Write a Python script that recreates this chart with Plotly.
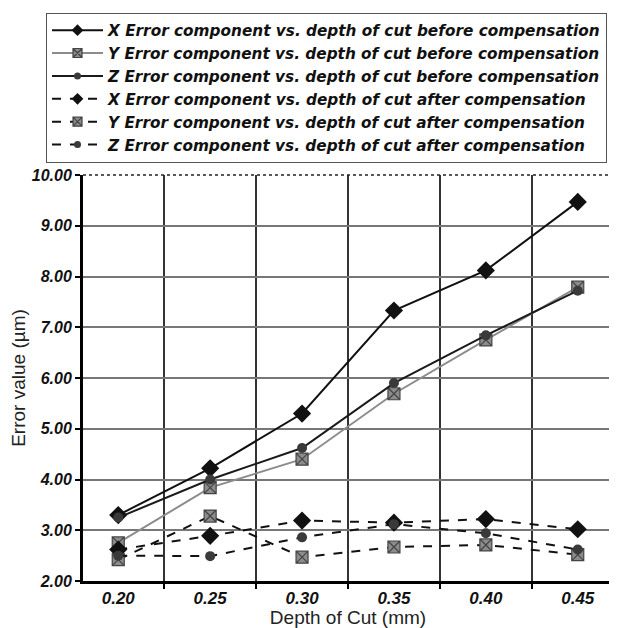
import plotly.graph_objects as go

depth = ["0.20", "0.25", "0.30", "0.35", "0.40", "0.45"]
x_before = [3.30, 4.22, 5.30, 7.33, 8.12, 9.47]
y_before = [2.75, 3.84, 4.40, 5.69, 6.75, 7.79]
z_before = [3.25, 4.00, 4.62, 5.90, 6.84, 7.72]
x_after = [2.62, 2.89, 3.19, 3.15, 3.22, 3.02]
y_after = [2.42, 3.28, 2.47, 2.67, 2.71, 2.52]
z_after = [2.50, 2.49, 2.86, 3.12, 2.94, 2.62]

names = [
    "X Error component vs. depth of cut before compensation",
    "Y Error component vs. depth of cut before compensation",
    "Z Error component vs. depth of cut before compensation",
    "X Error component vs. depth of cut after compensation",
    "Y Error component vs. depth of cut after compensation",
    "Z Error component vs. depth of cut after compensation",
]

FONT = "Liberation Sans, Arial, sans-serif"
LEGFONT = "DejaVu Sans, sans-serif"

lines = [
    dict(color="#111111", width=2),
    dict(color="#8c8c8c", width=2),
    dict(color="#1a1a1a", width=2),
    dict(color="#111111", width=2, dash="dash"),
    dict(color="#111111", width=2, dash="dash"),
    dict(color="#111111", width=2, dash="dash"),
]
marks = [
    dict(symbol="diamond", size=14, color="#111111"),
    dict(symbol="square-x", size=12, color="#8c8c8c", line=dict(color="#444444", width=1.2)),
    dict(symbol="circle", size=10, color="#3a3a3a"),
    dict(symbol="diamond", size=14, color="#111111"),
    dict(symbol="square-x", size=12, color="#8c8c8c", line=dict(color="#444444", width=1.2)),
    dict(symbol="circle", size=10, color="#3a3a3a"),
]
leg_sizes = [9, 9, 7, 9, 9, 7]

series = [x_before, y_before, z_before, x_after, y_after, z_after]

fig = go.Figure()
for i, (name, vals) in enumerate(zip(names, series)):
    fig.add_trace(go.Scatter(x=depth, y=vals, mode="lines+markers", name=name,
                             line=lines[i], marker=marks[i], showlegend=False,
                             legendgroup=f"g{i}"))
# legend entries with smaller symbols (as in the reference legend)
for i, name in enumerate(names):
    m = dict(marks[i])
    m["size"] = leg_sizes[i]
    fig.add_trace(go.Scatter(x=[None], y=[None], mode="lines+markers", name=name,
                             line=lines[i], marker=m, showlegend=True,
                             legendgroup=f"g{i}", hoverinfo="skip"))

fig.update_layout(
    width=609, height=620,
    paper_bgcolor="white", plot_bgcolor="white",
    margin=dict(l=75, r=4, t=167, b=47),
    font=dict(family=FONT, color="#111111"),
    showlegend=True,
    legend=dict(
        x=-0.0698, y=1.3998, xanchor="left", yanchor="top",
        bordercolor="#555555", borderwidth=1, bgcolor="white",
        itemwidth=51,
        font=dict(family=LEGFONT, size=15.3, style="italic", weight="bold", color="#111111"),
        tracegroupgap=0,
    ),
    xaxis=dict(
        type="category", tickson="boundaries",
        categoryorder="array", categoryarray=depth,
        showgrid=True, gridcolor="#333333", gridwidth=1.5,
        showline=True, linecolor="#000000", linewidth=3,
        ticks="outside", ticklen=5, tickwidth=2, tickcolor="#000000",
        tickfont=dict(family=FONT, size=17, weight="bold", style="italic", color="#111111"),
        title=dict(text="Depth of Cut (mm)", font=dict(family=FONT, size=19, color="#222222"), standoff=2),
        zeroline=False,
    ),
    yaxis=dict(
        range=[2, 10], dtick=1, tickformat=".2f",
        showgrid=True, gridcolor="#777777", gridwidth=1.5,
        showline=True, linecolor="#000000", linewidth=3,
        ticks="outside", ticklen=5, tickwidth=2, tickcolor="#000000",
        tickfont=dict(family=FONT, size=16, weight="bold", style="italic", color="#111111"),
        title=dict(text="Error value (µm)", font=dict(family=FONT, size=19, color="#222222"), standoff=6),
        zeroline=False,
    ),
    shapes=[
        dict(type="line", xref="paper", yref="paper", x0=0, x1=1, y0=1, y1=1,
             line=dict(color="#222222", width=1.5, dash="dot")),
        dict(type="line", xref="paper", yref="paper", x0=1, x1=1, y0=0, y1=1,
             line=dict(color="#222222", width=1.5, dash="dot")),
    ],
)

fig.write_html("out.html")
